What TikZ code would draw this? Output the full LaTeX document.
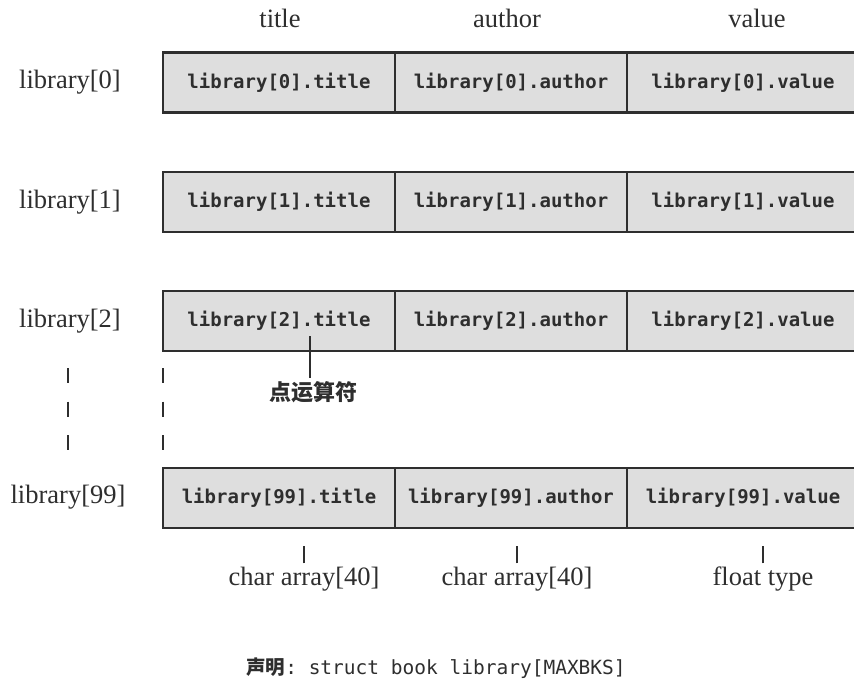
\documentclass[tikz,border=0pt]{standalone}
\usepackage{fontspec}
\setmainfont{Liberation Serif}
\setmonofont{DejaVu Sans Mono}
\newfontfamily\cjk{Noto Sans CJK SC}
\usepackage{xcolor}
\definecolor{libfill}{HTML}{DEDEDE}
\definecolor{libline}{HTML}{2E2E2E}
\usetikzlibrary{positioning}
\tikzset{
  libcell/.style={draw=libline,line width=2.6pt,fill=libfill,outer sep=0pt,inner sep=0pt,minimum width=232pt,minimum height=60pt,font=\ttfamily\bfseries\fontsize{19}{22}\selectfont,text=libline},
  librow/.style={font=\fontsize{26.5}{30}\selectfont,text=libline},
  libhead/.style={font=\fontsize{26.5}{30}\selectfont,text=libline},
  libtick/.style={draw=libline,line width=1.2pt},
  libdots/.style={draw=libline,line width=1.6pt,dash pattern=on 15pt off 18.5pt},
}

\begin{document}
\begin{tikzpicture}[x=1pt,y=-1pt]
\useasboundingbox (0,0) rectangle (854,686);
 % member names
\node[libhead] (htitle) at (280,18) {title};
\node[libhead] (hauthor) at (507,18) {author};
\node[libhead] (hvalue) at (757,18) {value};
 % array elements
\node[librow] (r0) at (70,82) {library[0]};
\node[libcell] (t0) at (279,82.5) {library[0].title};
\node[libcell,right=0pt of t0] (a0) {library[0].author};
\node[libcell,right=0pt of a0] (v0) {library[0].value};
\node[librow] (r1) at (70,202) {library[1]};
\node[libcell] (t1) at (279,202) {library[1].title};
\node[libcell,right=0pt of t1] (a1) {library[1].author};
\node[libcell,right=0pt of a1] (v1) {library[1].value};
\node[librow] (r2) at (70,321) {library[2]};
\node[libcell] (t2) at (279,321) {library[2].title};
\node[libcell,right=0pt of t2] (a2) {library[2].author};
\node[libcell,right=0pt of a2] (v2) {library[2].value};
\node[librow] (r99) at (68,497) {library[99]};
\node[libcell] (t99) at (279,498) {library[99].title};
\node[libcell,right=0pt of t99] (a99) {library[99].author};
\node[libcell,right=0pt of a99] (v99) {library[99].value};
 % elided rows
\draw[libdots] (68,368) -- (68,452);
\draw[libdots] (163,368) -- (163,452);
 % dot operator
\coordinate (dot2) at (310,336);
\node[font=\cjk\bfseries\fontsize{22}{24}\selectfont,text=libline] (dotop) at (313,392) {点运算符};
\draw[libtick] (dotop.north -| dot2) -- (dot2);
 % member types
\node[librow] (c1) at (304,579) {char array[40]};
\node[librow] (c2) at (517,579) {char array[40]};
\node[librow] (c3) at (763,579) {float type};
\draw[libtick] (c1.north) -- ++(0,-17);
\draw[libtick] (c2.north) -- ++(0,-17);
\draw[libtick] (c3.north) -- ++(0,-17);
 % declaration
\node[text=libline,font=\fontsize{19.5}{22}\selectfont] (decl) at (436,668) {{\cjk\bfseries 声明}\texttt{: struct book library[MAXBKS]}};
\end{tikzpicture}
\end{document}
